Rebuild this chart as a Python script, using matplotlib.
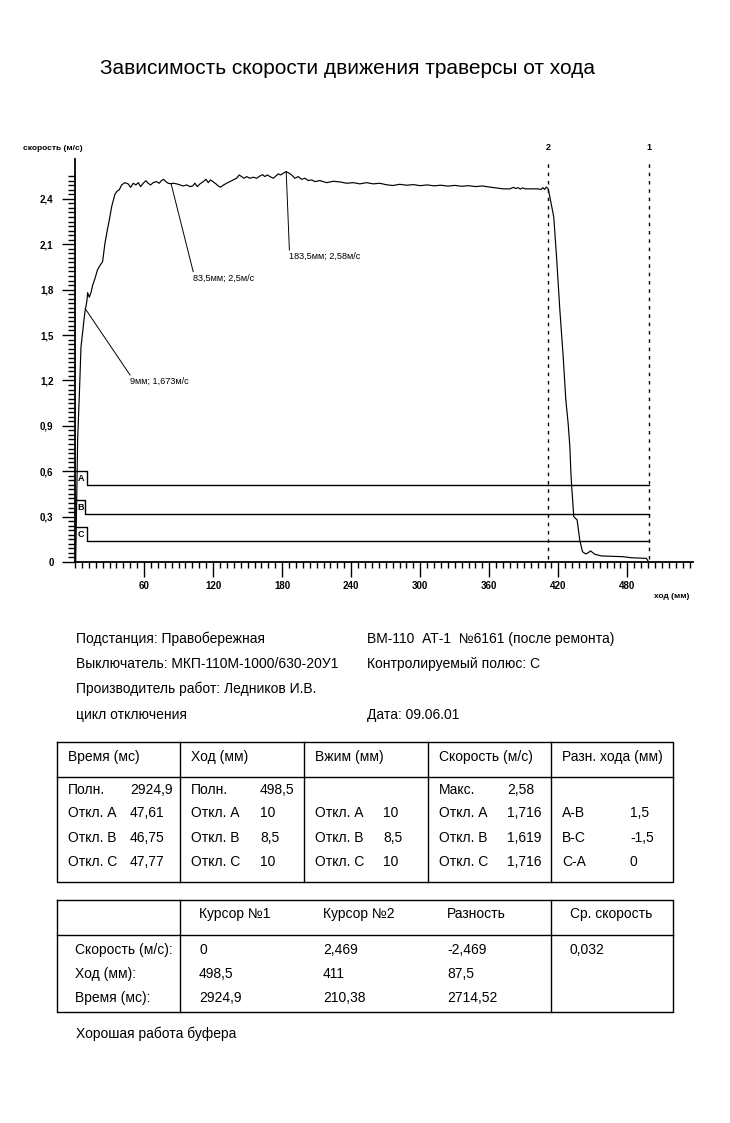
import matplotlib
matplotlib.use('Agg')
import matplotlib.pyplot as plt
import numpy as np

plt.rcParams['font.family'] = ['Liberation Sans', 'DejaVu Sans']

# ---------------- data ----------------
speed_x = [0.6, 1.2, 1.8, 2.3, 3.7, 5.2, 8.1, 9.0, 9.6, 10.4, 11.0, 12.4, 13.9, 15.4, 16.8,
           17.4, 19.5, 21.7, 24.0, 26.0, 28.0, 29.8, 31.9, 34.7, 36.5, 38.5,
           40.5, 43.4, 46.3, 48.3, 50.6, 52.9, 55.0, 57.0, 59.3, 61.6, 63.6, 65.6, 68.0, 70.8,
           73.1, 75.1, 77.1, 78.9, 80.9, 83.5,
           85.4, 88.3, 91.2, 94.1, 97.0, 99.9, 102.2, 104.2, 106.3, 108.6, 111.5, 113.8, 115.8,
           117.8, 120.2, 122.5, 124.5, 126.5, 128.8, 131.7, 134.6, 137.5, 140.4, 142.7, 144.8,
           146.8, 149.1, 152.0, 154.9, 157.8, 160.7, 163.0, 165.0, 167.1, 169.4, 172.3, 174.6,
           176.6, 178.6, 181.0, 183.5, 186.2, 188.2, 191.1, 194.0, 196.9, 199.8, 202.7, 205.6,
           208.5, 212.8, 218.6, 224.4, 230.2, 236.0, 241.8, 247.5, 253.3, 259.1, 264.9,
           270, 276, 282, 288, 294, 300, 306, 312, 318, 324, 330, 336, 342, 348, 354, 360, 366,
           372, 378, 381, 383, 385, 387, 389, 391, 396, 402, 405, 406.5, 408, 409.5, 411,
           412.6, 416.0, 418.4, 421.3, 424.2, 426.5, 428.5, 430.0, 430.8, 431.4, 433.4, 436.3,
           438.6, 441.0, 443.9, 446.0, 448.0, 451.7, 457.5, 476.3, 483.5, 496.5, 498.5]
speed_y = [0.00, 0.30, 0.60, 0.81, 1.09, 1.42, 1.62, 1.673, 1.69, 1.73, 1.78, 1.75, 1.78, 1.83, 1.86,
           1.875, 1.93, 1.96, 1.985, 2.106, 2.19, 2.26, 2.35, 2.43, 2.45, 2.46,
           2.492, 2.507, 2.498, 2.476, 2.503, 2.492, 2.507, 2.481, 2.503, 2.520, 2.503, 2.492, 2.507, 2.514,
           2.503, 2.520, 2.529, 2.514, 2.503, 2.500,
           2.503, 2.499, 2.492, 2.485, 2.492, 2.481, 2.485, 2.503, 2.481, 2.499, 2.514, 2.529, 2.507,
           2.525, 2.512, 2.499, 2.485, 2.477, 2.490, 2.503, 2.514, 2.525, 2.536, 2.558, 2.547,
           2.536, 2.547, 2.536, 2.543, 2.536, 2.551, 2.560, 2.547, 2.558, 2.547, 2.536, 2.551,
           2.565, 2.558, 2.569, 2.580, 2.569, 2.558, 2.536, 2.547, 2.529, 2.536, 2.521, 2.525,
           2.514, 2.521, 2.507, 2.516, 2.512, 2.503, 2.507, 2.499, 2.507, 2.499, 2.503,
           2.494, 2.488, 2.496, 2.490, 2.494, 2.487, 2.492, 2.486, 2.490, 2.484, 2.489, 2.483, 2.487,
           2.481, 2.485, 2.478, 2.472,
           2.466, 2.466, 2.476, 2.468, 2.474, 2.464, 2.473, 2.466, 2.466, 2.466, 2.462, 2.474, 2.462,
           2.478, 2.469,
           2.414, 2.28, 2.02, 1.666, 1.357, 1.07, 0.917, 0.762, 0.608, 0.52, 0.30, 0.278,
           0.145, 0.068, 0.053, 0.062, 0.073, 0.051, 0.040, 0.035, 0.028, 0.024, 0.0]

chan_names = ['A', 'B', 'C']
chan_hi = [0.60, 0.41, 0.23]
chan_lo = [0.51, 0.32, 0.14]
chan_step = [10.0, 8.5, 10.0]

cursor_x = [498.5, 411.0]
cursor_names = ['1', '2']

ann_pts_x = [9.0, 83.5, 183.5]
ann_pts_y = [1.673, 2.5, 2.58]
ann_labels = ['9мм; 1,673м/с', '83,5мм; 2,5м/с', '183,5мм; 2,58м/с']
ann_text_x = [47.8, 102.7, 186.3]
ann_text_y = [1.236, 1.919, 2.062]

x_major = [60, 120, 180, 240, 300, 360, 420, 480]
y_major = [0, 0.3, 0.6, 0.9, 1.2, 1.5, 1.8, 2.1, 2.4]
y_major_labels = ['0', '0,3', '0,6', '0,9', '1,2', '1,5', '1,8', '2,1', '2,4']

title = 'Зависимость скорости движения траверсы от хода'

info_left = ['Подстанция: Правобережная', 'Выключатель: МКП-110М-1000/630-20У1',
             'Производитель работ: Ледников И.В.', 'цикл отключения']
info_right = ['ВМ-110  АТ-1  №6161 (после ремонта)', 'Контролируемый полюс: С', '', 'Дата: 09.06.01']

t1_headers = ['Время (мс)', 'Ход (мм)', 'Вжим (мм)', 'Скорость (м/с)', 'Разн. хода (мм)']
t1_cells = [
    [('Полн.', '2924,9'), ('Откл. А', '47,61'), ('Откл. В', '46,75'), ('Откл. С', '47,77')],
    [('Полн.', '498,5'), ('Откл. А', '10'), ('Откл. В', '8,5'), ('Откл. С', '10')],
    [('', ''), ('Откл. А', '10'), ('Откл. В', '8,5'), ('Откл. С', '10')],
    [('Макс.', '2,58'), ('Откл. А', '1,716'), ('Откл. В', '1,619'), ('Откл. С', '1,716')],
    [('', ''), ('А-В', '1,5'), ('В-С', '-1,5'), ('С-А', '0')],
]

t2_headers = ['', 'Курсор №1', 'Курсор №2', 'Разность', 'Ср. скорость']
t2_rows = ['Скорость (м/с):', 'Ход (мм):', 'Время (мс):']
t2_cells = [
    ['0', '498,5', '2924,9'],
    ['2,469', '411', '210,38'],
    ['-2,469', '87,5', '2714,52'],
    ['0,032', '', ''],
]
footer = 'Хорошая работа буфера'

# ---------------- figure ----------------
W, H = 730, 1123
fig = plt.figure(figsize=(W / 100, H / 100), dpi=100)
fig.patch.set_facecolor('white')

bg = fig.add_axes([0, 0, 1, 1], zorder=-1)
bg.set_xlim(0, W)
bg.set_ylim(H, 0)
bg.axis('off')

ax = fig.add_axes([75 / W, 1 - 562 / H, 618 / W, 402.5 / H])
ax.set_xlim(0, 537)
ax.set_ylim(0, 2.66)
ax.patch.set_alpha(0)
for s in ['top', 'right']:
    ax.spines[s].set_visible(False)
for s in ['left', 'bottom']:
    ax.spines[s].set_linewidth(1.3)

ax.set_xticks(x_major)
ax.set_xticklabels([str(v) for v in x_major])
ax.set_xticks(np.arange(0, 535, 6), minor=True)
ax.set_yticks(y_major)
ax.set_yticklabels(y_major_labels)
ax.set_yticks(np.arange(0, 2.56, 0.03), minor=True)
ax.tick_params(axis='x', which='major', direction='out', length=10.8, width=1.0, pad=3, labelsize=7)
ax.tick_params(axis='x', which='minor', direction='out', length=4.5, width=1.0)
ax.tick_params(axis='y', which='major', direction='out', length=9.4, width=1.0, pad=6, labelsize=7)
ax.tick_params(axis='y', which='minor', direction='out', length=5.0, width=1.0)
for lbl in ax.get_xticklabels() + ax.get_yticklabels():
    lbl.set_fontweight('bold')

# speed curve
ax.plot(speed_x, speed_y, color='black', lw=0.85, clip_on=False)

# channel steps
for name, hi, lo, st in zip(chan_names, chan_hi, chan_lo, chan_step):
    ax.plot([0, st, st, cursor_x[0]], [hi, hi, lo, lo], color='black', lw=1.0)
    ax.text(st * 0.55, (hi + lo) / 2 - 0.005, name, fontsize=6.5, fontweight='bold',
            ha='center', va='center')

# cursors
for cx, cn in zip(cursor_x, cursor_names):
    ax.plot([cx, cx], [0.02, 2.65], color='black', lw=1.0, linestyle=(0, (2.5, 3.5)), clip_on=False)
    ax.text(cx, 2.736, cn, fontsize=6.5, fontweight='bold', ha='center', va='center', clip_on=False)

# annotations
for px_, py_, lab, tx, ty in zip(ann_pts_x, ann_pts_y, ann_labels, ann_text_x, ann_text_y):
    ax.plot([px_, tx], [py_, ty], color='black', lw=0.7)
    ax.text(tx, ty - 0.045, lab, fontsize=6.6, ha='left', va='center')

# axis labels
bg.text(53, 148, 'скорость (м/с)', fontsize=6, fontweight='bold', ha='center', va='center')
bg.text(672, 597, 'ход (мм)', fontsize=6, fontweight='bold', ha='center', va='center')

# title
bg.text(347, 68, title, fontsize=15, ha='center', va='center')

# info block
fs_t = 10
info_y = [639, 664, 689, 715]
for yy, l, r in zip(info_y, info_left, info_right):
    bg.text(76, yy, l, fontsize=fs_t, ha='left', va='center')
    bg.text(367, yy, r, fontsize=fs_t, ha='left', va='center')

# tables
tl, tr = 57, 673
cols = [57, 180, 304, 428, 551, 673]
lw_t = 1.0
def box(top, bottom, head, vcols):
    bg.plot([tl, tr, tr, tl, tl], [top, top, bottom, bottom, top], color='black', lw=lw_t)
    bg.plot([tl, tr], [head, head], color='black', lw=lw_t)
    for c in vcols:
        bg.plot([c, c], [top, bottom], color='black', lw=lw_t)

box(742, 882, 777, cols[1:-1])
for i, h in enumerate(t1_headers):
    bg.text(cols[i] + 11, 757, h, fontsize=fs_t, ha='left', va='center')
row_y1 = [790, 813, 838, 862]
val_off = [73, 80, 79, 79, 79]
for i, col in enumerate(t1_cells):
    for (lab, val), yy in zip(col, row_y1):
        if lab:
            bg.text(cols[i] + 11, yy, lab, fontsize=fs_t, ha='left', va='center')
        if val:
            bg.text(cols[i] + val_off[i], yy, val, fontsize=fs_t, ha='left', va='center')

box(900, 1012, 935, [180, 551])
for i, h in enumerate(t2_headers):
    if h:
        bg.text(cols[i] + 19, 914, h, fontsize=fs_t, ha='left', va='center')
row_y2 = [950, 974, 998]
for lab, yy in zip(t2_rows, row_y2):
    bg.text(75, yy, lab, fontsize=fs_t, ha='left', va='center')
for i, col in enumerate(t2_cells):
    for val, yy in zip(col, row_y2):
        if val:
            bg.text(cols[i + 1] + 19, yy, val, fontsize=fs_t, ha='left', va='center')

bg.text(76, 1034, footer, fontsize=fs_t, ha='left', va='center')

fig.savefig('out.png', dpi=100, facecolor='white')
